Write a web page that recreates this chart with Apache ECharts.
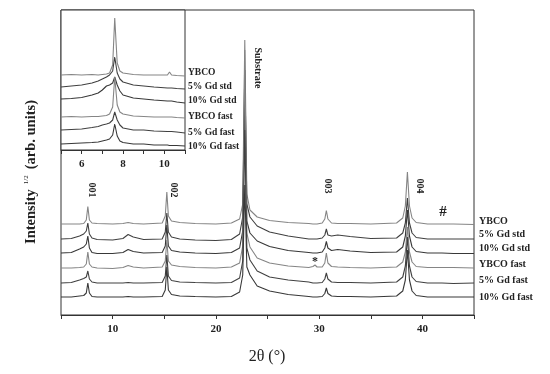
<!DOCTYPE html>
<html>
<head>
<meta charset="utf-8">
<script src="https://cdn.jsdelivr.net/npm/echarts@6/dist/echarts.min.js"></script>
<style>html,body{margin:0;padding:0;background:#fff}#c{width:550px;height:374px}</style>
</head>
<body>
<div id="c"></div>
<script>
// ---- Data (intensity in arbitrary units) ----
const sampleNames = ['YBCO', '5% Gd std', '10% Gd std', 'YBCO fast', '5% Gd fast', '10% Gd fast'];
const xTicksMain = [10, 20, 30, 40];
const xTicksInset = [6, 8, 10];

// main pattern: 2θ sample points
const twoTheta = [5, 6, 6.8, 7.2, 7.45, 7.6, 7.75, 8.0, 8.5, 10, 11, 11.5, 12, 13, 14.8, 15.1, 15.25, 15.4, 15.7, 16.5, 18, 20, 21.5, 22.3, 22.6, 22.8, 23.0, 23.3, 24, 25.2, 27, 29, 29.4, 29.6, 29.8, 30.3, 30.55, 30.7, 30.85, 31.2, 31.8, 33, 35, 37.5, 38.1, 38.35, 38.55, 38.75, 39.0, 39.4, 40.5, 41.6, 41.75, 41.9, 43, 45];
// vertical stacking offsets of each trace
const mainOffsets = [91, 76, 62, 47, 32, 18];
// intensity above each trace's own baseline
const mainYBCO      = [0, 0, 0, 0.5, 4, 17.5, 4, 1, 0.5, 0, 0.5, 1.5, 0.5, 0, 1, 8, 32, 8, 3, 1.5, 0.5, 0, 1, 5, 20, 184, 30, 14, 7, 3.5, 1.5, 0.5, 0, 0, 0, 1, 5, 13.5, 5, 1, 0.5, 0.5, 0, 1, 6, 18, 52, 18, 6, 1.5, 0, 0, 2, 0, 0, -0.5];
const main5GdStd    = [0, 0.5, 3, 5, 8, 16, 5, 1, -0.5, -1, 0.5, 4.5, 2, -0.5, 0, 7, 26, 7, 2, 0, -1, -1.5, -0.5, 5, 22, 169, 35, 22, 13, 7, 3, 0, 0, 0, 0, 1, 4, 10, 4, 3, 4, 2.5, 0.5, 1, 6, 16, 41, 16, 6, 1.5, 0, 0, 1.5, 0, 0, 0];
const main10GdStd   = [0, 0.5, 4, 6, 9, 17, 5, 0.5, -0.5, -0.5, 0.5, 3.5, 1.5, 0, 0.5, 7, 28, 7, 2.5, 1, 0, -0.5, 0.5, 5, 22, 145, 32, 20, 12, 6.5, 2.5, 0.5, 0, 0, 0, 1, 5, 11.5, 5, 2.5, 3.5, 2, 0.5, 1, 6, 17, 43, 17, 6, 1.5, 0, 0, 1, 0, -0.5, -0.5];
const mainYBCOfast  = [0, 0, 0.5, 1, 4, 16, 4, 1, 0, -0.5, 0.5, 2.5, 1, 0, 1, 7, 28, 7, 3, 1.5, 0.5, 0, 1, 5, 22, 218, 35, 21, 10, 5, 2, 0.5, 1.5, 3, 1, 1, 5, 15, 5, 1.5, 1, 0.5, 0, 1, 6, 16, 41, 16, 6, 1.5, 0.5, 0.5, 2, 0.5, 0.5, 0];
const main5GdFast   = [0, 0.5, 3, 4.5, 6, 12, 4, 1, 0, 0, 0, 0.5, 0, 0, 0.5, 7, 28, 7, 2.5, 1, 0.5, 0, 0.5, 5, 22, 153, 35, 23, 12, 6, 3, 1, 0, 0, 0, 0.5, 4, 10, 4, 1, 0.5, 0.5, 0, 1, 6, 17, 46, 17, 6, 1.5, 0, 0, 1, 0, -0.5, 0];
const main10GdFast  = [0, 0, 1, 1.5, 4, 14, 4, 0.5, 0, 0, 0, 0.5, 0, 0, 0.5, 7, 30, 7, 2.5, 1, 0.5, 0, 0.5, 5, 22, 112, 30, 22, 11, 6, 2.5, 0.5, 0, 0, 0, 0.5, 3.5, 9, 3.5, 1, 0.5, 0.5, 0, 1, 6, 17, 47, 17, 6, 1.5, 0, 0, 1.5, 0, 0, 0];
const mainTraces = [mainYBCO, main5GdStd, main10GdStd, mainYBCOfast, main5GdFast, main10GdFast];

// inset: zoom on the (001) reflection
const twoThetaInset = [5, 5.5, 6, 6.5, 6.8, 7.0, 7.2, 7.35, 7.5, 7.6, 7.72, 7.85, 8.0, 8.5, 9, 9.5, 10.15, 10.25, 10.35, 10.6, 11];
const insetOffsets = [75, 63, 51, 33, 20, 6];
const insYBCO     = [0, 0.5, 0, 0.5, 0, 0.5, 1, 2, 10, 57, 12, 4, 2, 0.5, 0, 0, 0, 3, 0, -0.5, -1];
const ins5GdStd   = [0, 1, 2, 4, 6, 8, 10, 12, 16, 30, 14, 8, 5, 2, 1, 0, -1, -1, -1, -1.5, -2];
const ins10GdStd  = [0, 0.5, 1.5, 4, 6, 9, 13, 14, 16, 22, 14, 8, 4, 1, 0, -1, -2, -2, -2, -3, -4];
const insYBCOfast = [0, 0.5, 0, 0.5, 0.5, 1, 1.5, 3, 10, 40, 12, 5, 3, 1, 0.5, 0, 0, 0, 0, -0.5, -1];
const ins5GdFast  = [0, 0.5, 1, 2.5, 3.5, 5, 6, 7, 10, 18, 10, 5, 2, 0, 0, -1, -1.5, -1.5, -1.5, -2, -3];
const ins10GdFast = [0, 0.5, 1, 1.5, 2, 3, 4, 5, 9, 20, 8, 3, 1.5, 0, 0, -1, -1, -1.5, -1.5, -1.5, -2];
const insetTraces = [insYBCO, ins5GdStd, ins10GdStd, insYBCOfast, ins5GdFast, ins10GdFast];

// ---- Chart ----
const lineColors = ['#858585', '#404040', '#383838', '#858585', '#404040', '#383838'];
const serif = 'Liberation Serif';

const series = [];
mainTraces.forEach((tr, i) => {
  series.push({
    type: 'line', xAxisIndex: 0, yAxisIndex: 0, symbol: 'none', silent: true,
    lineStyle: { color: lineColors[i], width: 1.1 },
    data: twoTheta.map((x, k) => [x, mainOffsets[i] + tr[k]])
  });
});
insetTraces.forEach((tr, i) => {
  series.push({
    type: 'line', xAxisIndex: 1, yAxisIndex: 1, symbol: 'none', silent: true,
    lineStyle: { color: lineColors[i], width: 1.1 },
    data: twoThetaInset.map((x, k) => [x, insetOffsets[i] + tr[k]])
  });
});

const tickFont = { fontFamily: serif, fontWeight: 'bold', fontSize: 11, color: '#222' };

const rightLabelY = [222, 235, 249, 265, 281, 298];
const insetLabelY = [73, 87, 101, 117, 133, 147];
const graphics = [];
sampleNames.forEach((n, i) => {
  graphics.push({ type: 'text', left: 479, top: rightLabelY[i] - 6,
    style: { text: n, font: 'bold 10px "' + serif + '"', fill: '#222' } });
  graphics.push({ type: 'text', left: 188, top: insetLabelY[i] - 5.5,
    style: { text: n, font: 'bold 9.5px "' + serif + '"', fill: '#222' } });
});
const peakLabels = [
  { t: '001', x: 92, y: 190 },
  { t: '002', x: 174, y: 190 },
  { t: 'Substrate', x: 258, y: 68 },
  { t: '003', x: 328, y: 186 },
  { t: '004', x: 420, y: 186 }
];
peakLabels.forEach(p => {
  graphics.push({ type: 'text', x: p.x, y: p.y, rotation: -Math.PI / 2,
    style: { text: p.t, font: 'bold 10px "' + serif + '"', fill: '#222', align: 'center', verticalAlign: 'middle' } });
});
graphics.push({ type: 'text', x: 443, y: 212,
  style: { text: '#', font: 'bold 15px "' + serif + '"', fill: '#222', align: 'center', verticalAlign: 'middle' } });
graphics.push({ type: 'text', x: 315, y: 262,
  style: { text: '*', font: 'bold 12px "' + serif + '"', fill: '#222', align: 'center', verticalAlign: 'middle' } });
graphics.push({ type: 'text', x: 267, y: 357,
  style: { text: '2θ (°)', font: '16px "' + serif + '"', fill: '#222', align: 'center', verticalAlign: 'middle' } });
graphics.push({ type: 'text', x: 31, y: 172, rotation: Math.PI / 2,
  style: {
    text: '{a|Intensity}{s|1/2}{a|(arb. units)}',
    align: 'center', verticalAlign: 'middle', fill: '#222',
    rich: {
      a: { fontFamily: serif, fontWeight: 'bold', fontSize: 14.5, lineHeight: 16, verticalAlign: 'bottom', fill: '#222' },
      s: { fontFamily: serif, fontSize: 7, lineHeight: 16, verticalAlign: 'top', fill: '#222', padding: [0, 6, 0, 5] }
    }
  } });

const option = {
  animation: false,
  backgroundColor: '#fff',
  grid: [
    { left: 61, top: 10, width: 413, height: 305, show: true, borderColor: '#333', borderWidth: 1, backgroundColor: 'transparent' },
    { left: 61, top: 10, width: 124, height: 140, show: true, borderColor: '#333', borderWidth: 1, backgroundColor: '#fff' }
  ],
  xAxis: [
    { type: 'value', gridIndex: 0, min: 5, max: 45, interval: 5,
      axisLine: { lineStyle: { color: '#333' } },
      axisTick: { inside: false, length: 4, lineStyle: { color: '#333' } },
      axisLabel: Object.assign({ margin: 9, formatter: v => (xTicksMain.indexOf(v) >= 0 ? String(v) : '') }, tickFont),
      splitLine: { show: false } },
    { type: 'value', gridIndex: 1, min: 5, max: 11, interval: 1,
      axisLine: { lineStyle: { color: '#333' } },
      axisTick: { inside: false, length: 4, lineStyle: { color: '#333' } },
      axisLabel: Object.assign({ margin: 9, formatter: v => (xTicksInset.indexOf(v) >= 0 ? String(v) : '') }, tickFont),
      splitLine: { show: false } }
  ],
  yAxis: [
    { type: 'value', gridIndex: 0, min: 0, max: 305, show: false },
    { type: 'value', gridIndex: 1, min: 0, max: 140, show: false }
  ],
  series: series,
  graphic: graphics
};

const chart = echarts.init(document.getElementById('c'), null, { renderer: 'canvas' });
chart.setOption(option);
</script>
</body>
</html>
